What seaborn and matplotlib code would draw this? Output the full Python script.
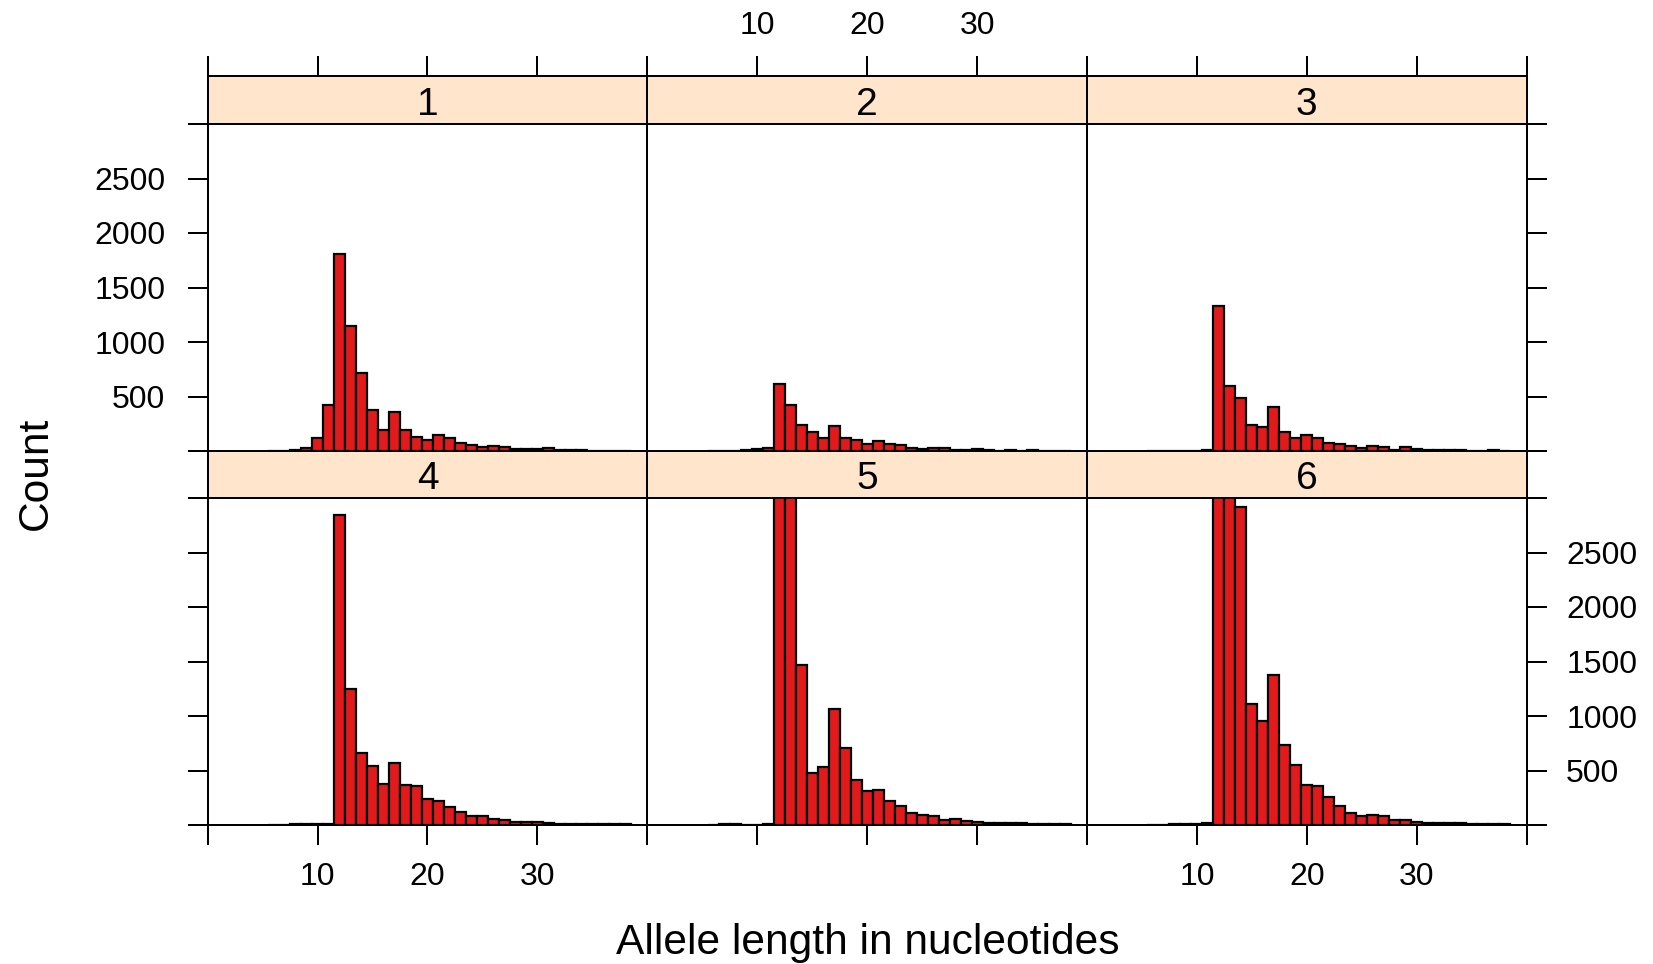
import matplotlib
matplotlib.use("Agg")
import matplotlib.pyplot as plt
import seaborn as sns

# ---------------- data ----------------
lengths = list(range(6, 39))
panel_names = ["1", "2", "3", "4", "5", "6"]

counts_1 = [2, 3, 9, 25, 123, 421, 1809, 1148, 714, 372, 197, 354, 197, 132, 105, 148,
            120, 74, 55, 37, 46, 37, 18, 18, 18, 25, 9, 9, 5, 4, 3, 3, 2]
counts_2 = [2, 2, 3, 6, 18, 28, 618, 425, 237, 175, 117, 231, 123, 105, 68, 89,
            62, 52, 25, 15, 25, 31, 12, 9, 15, 9, 3, 5, 3, 9, 2, 2, 1]
counts_3 = [1, 1, 2, 2, 3, 6, 1326, 594, 483, 237, 222, 403, 175, 123, 145, 123,
            71, 65, 43, 25, 46, 37, 12, 37, 15, 6, 6, 6, 6, 3, 3, 9, 3]
counts_4 = [2, 3, 5, 6, 5, 6, 2845, 1244, 656, 540, 375, 567, 366, 357, 238, 223,
            165, 122, 85, 82, 52, 43, 30, 27, 27, 15, 12, 12, 9, 9, 9, 6, 6]
counts_5 = [3, 6, 5, 4, 3, 6, 4600, 3700, 1464, 479, 531, 1064, 705, 412, 308, 320,
            217, 174, 110, 95, 82, 49, 52, 34, 27, 15, 18, 18, 15, 12, 12, 9, 6]
counts_6 = [2, 3, 5, 5, 6, 18, 4200, 3900, 2919, 1113, 958, 1376, 738, 555, 366, 357,
            256, 177, 107, 79, 95, 82, 49, 46, 27, 21, 21, 18, 15, 12, 12, 9, 9]
all_counts = [counts_1, counts_2, counts_3, counts_4, counts_5, counts_6]

x_ticks = [0, 10, 20, 30, 40]
x_tick_labels = ["", "10", "20", "30", ""]
y_ticks = [0, 500, 1000, 1500, 2000, 2500, 3000]
y_tick_labels = ["", "500", "1000", "1500", "2000", "2500", ""]

x_label = "Allele length in nucleotides"
y_label = "Count"

# ---------------- style ----------------
sns.set_style("white")
plt.rcParams["font.family"] = ["Liberation Sans", "DejaVu Sans"]
plt.rcParams["text.color"] = "black"
plt.rcParams["axes.labelcolor"] = "black"
plt.rcParams["xtick.color"] = "black"
plt.rcParams["ytick.color"] = "black"

bar_color = "#E31A1C"
strip_color = "#FFE5CC"
lw = 1.44
tick_len = 14.4
tick_fs = 23

W, H = 1653, 964
fig = plt.figure(figsize=(W / 100, H / 100), dpi=100)


def rect(x0, y_top, w, h):
    return [x0 / W, 1 - (y_top + h) / H, w / W, h / H]


col_x = [207.6, 647.3, 1087.0]
col_w = 439.7
rows = [(76.3, 124.0, 451.0), (451.0, 498.0, 825.0)]

for k, (name, counts) in enumerate(zip(panel_names, all_counts)):
    r, c = divmod(k, 3)
    s_top, s_bot, p_bot = rows[r]
    x0 = col_x[c]

    ax = fig.add_axes(rect(x0, s_bot, col_w, p_bot - s_bot))
    sns.histplot(x=lengths, weights=counts, discrete=True, ax=ax,
                 color=bar_color, edgecolor="black", linewidth=1.6, alpha=1)
    ax.set_xlim(0, 40)
    ax.set_ylim(0, 3000)
    ax.set_xlabel("")
    ax.set_ylabel("")
    ax.set_xticks(x_ticks)
    ax.set_xticklabels(x_tick_labels)
    ax.set_yticks(y_ticks)
    ax.set_yticklabels(y_tick_labels)
    for sp in ax.spines.values():
        sp.set_visible(True)
        sp.set_color("black")
        sp.set_linewidth(lw)
    ax.tick_params(axis="both", which="both", direction="out", length=tick_len,
                   width=lw, labelsize=tick_fs, colors="black",
                   left=False, right=False, top=False, bottom=False,
                   labelleft=False, labelright=False, labeltop=False, labelbottom=False)
    if c == 0:
        ax.tick_params(axis="y", left=True, labelleft=(r == 0), pad=16)
    if c == 2:
        ax.tick_params(axis="y", right=True, labelright=(r == 1), pad=14)
    if r == 1:
        ax.tick_params(axis="x", bottom=True, labelbottom=(c != 1), pad=12)

    sx = fig.add_axes(rect(x0, s_top, col_w, s_bot - s_top))
    sx.set_facecolor(strip_color)
    sx.set_xlim(0, 40)
    sx.set_ylim(0, 1)
    sx.set_yticks([])
    for sp in sx.spines.values():
        sp.set_visible(True)
        sp.set_color("black")
        sp.set_linewidth(lw)
    if r == 0:
        sx.set_xticks(x_ticks)
        sx.set_xticklabels(x_tick_labels)
        sx.tick_params(axis="x", direction="out", length=tick_len, width=lw,
                       labelsize=tick_fs, colors="black", top=True, bottom=False,
                       labeltop=(c == 1), labelbottom=False, pad=11)
    else:
        sx.set_xticks([])
    sx.text(0.5, 0.19, name, transform=sx.transAxes, ha="center", va="baseline",
            fontsize=28)

fig.text(868 / W, 1 - 954 / H, x_label, ha="center", va="baseline", fontsize=30.6)
fig.text(47 / W, 1 - 473 / H, y_label, rotation=90, rotation_mode="anchor",
         ha="center", va="baseline", fontsize=30.6)

fig.savefig("out.png", dpi=100)
